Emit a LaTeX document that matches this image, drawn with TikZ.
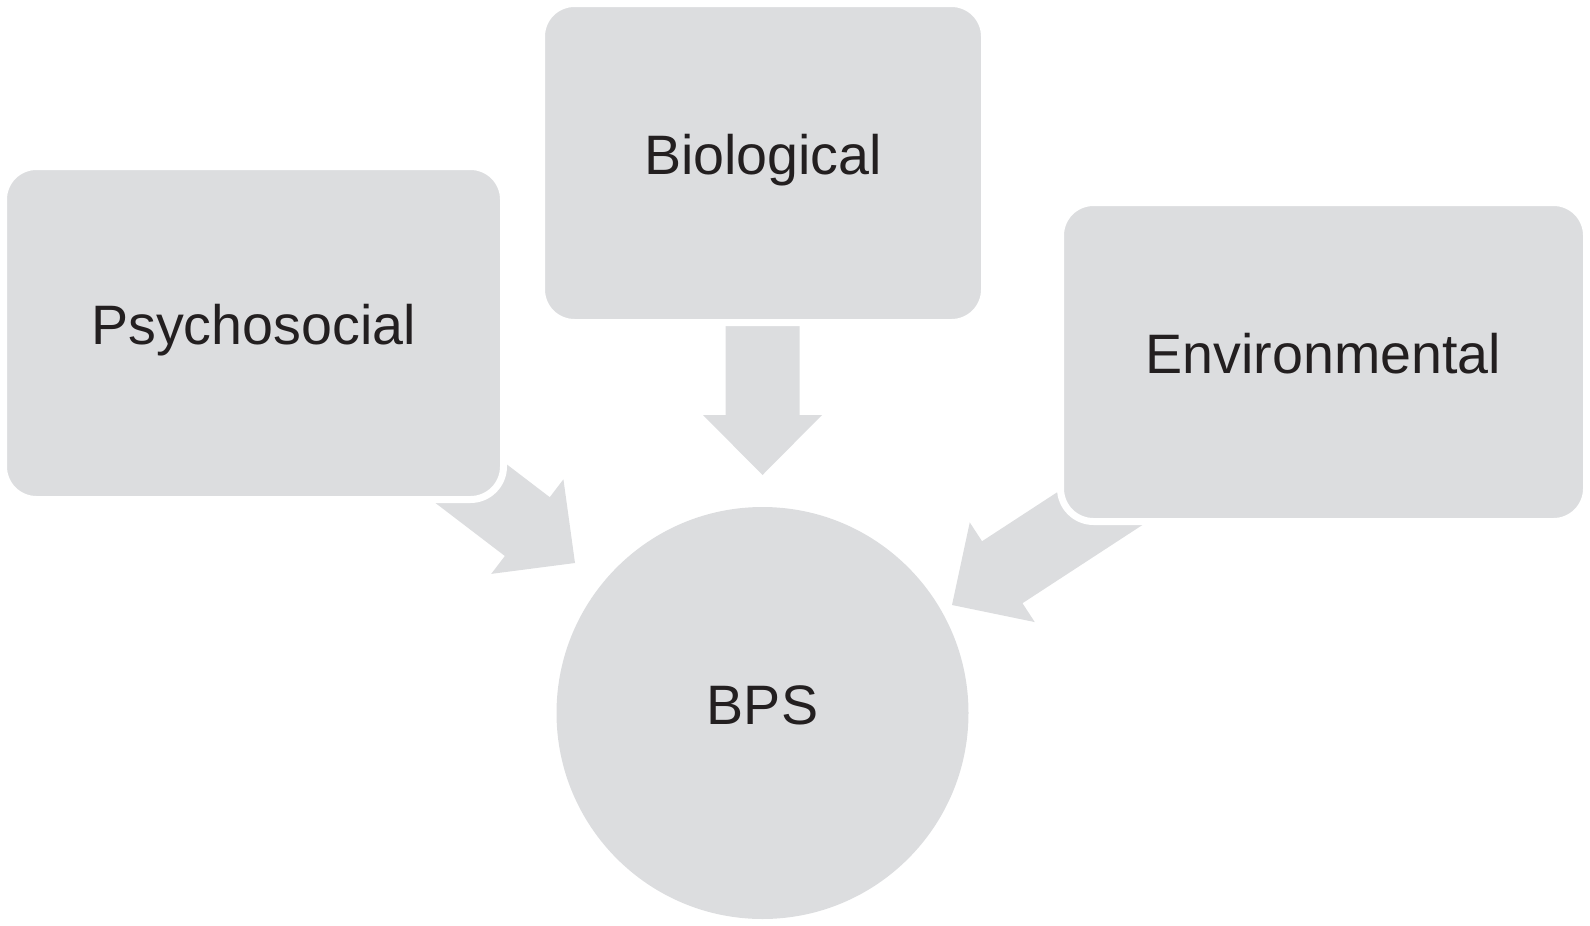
\documentclass[tikz,border=0pt]{standalone}
\usepackage{fontspec}
\setmainfont{Liberation Sans}
\usetikzlibrary{calc,backgrounds}
\definecolor{boxgray}{RGB}{220,221,223}
\definecolor{txt}{RGB}{35,31,32}
\tikzset{
  card/.style={rectangle, rounded corners=33pt, fill=boxgray, draw=white, line width=7pt,
    inner sep=0pt, text height=40pt, text depth=17pt, font=\fontsize{55.6pt}{60pt}\selectfont, text=txt},
  hub/.style={circle, fill=boxgray, inner sep=0pt, minimum size=412pt,
    text height=40pt, text depth=17pt, font=\fontsize{55.6pt}{60pt}\selectfont, text=txt},
  blockarrow/.style={fill=boxgray, draw=none, to path={
    ($(\tikztotarget)!60pt!(\tikztostart)$) coordinate (ah)
    ($(\tikztostart)!37pt!90:(\tikztotarget)$) --
    ($(ah)!37pt!90:(\tikztotarget)$) --
    ($(ah)!59.5pt!90:(\tikztotarget)$) --
    (\tikztotarget) --
    ($(ah)!59.5pt!-90:(\tikztotarget)$) --
    ($(ah)!37pt!-90:(\tikztotarget)$) --
    ($(\tikztostart)!37pt!-90:(\tikztotarget)$) -- cycle}}
}
\begin{document}
\begin{tikzpicture}[x=1pt,y=-1pt]
  \useasboundingbox (0,0) rectangle (1590,926);
  \node[card, minimum width=500pt, minimum height=333pt] (psy) at (253.5,333) {Psychosocial};
  \node[card, minimum width=443pt, minimum height=319pt] (bio) at (763,163) {Biological};
  \node[card, minimum width=526pt, minimum height=319pt] (env) at (1323.5,362) {Environmental};
  \node[hub] (bps) at (762.5,713) {BPS};
  \coordinate (psyT) at (408,435.5);
  \coordinate (psyH) at (575,563);
  \coordinate (bioT) at (762.5,300);
  \coordinate (bioH) at (762.5,475);
  \coordinate (envT) at (1136,485);
  \coordinate (envH) at (952,605);
  \begin{pgfonlayer}{background}
    \path[blockarrow] (psyT) to (psyH);
    \path[blockarrow] (bioT) to (bioH);
    \path[blockarrow] (envT) to (envH);
  \end{pgfonlayer}
\end{tikzpicture}
\end{document}
